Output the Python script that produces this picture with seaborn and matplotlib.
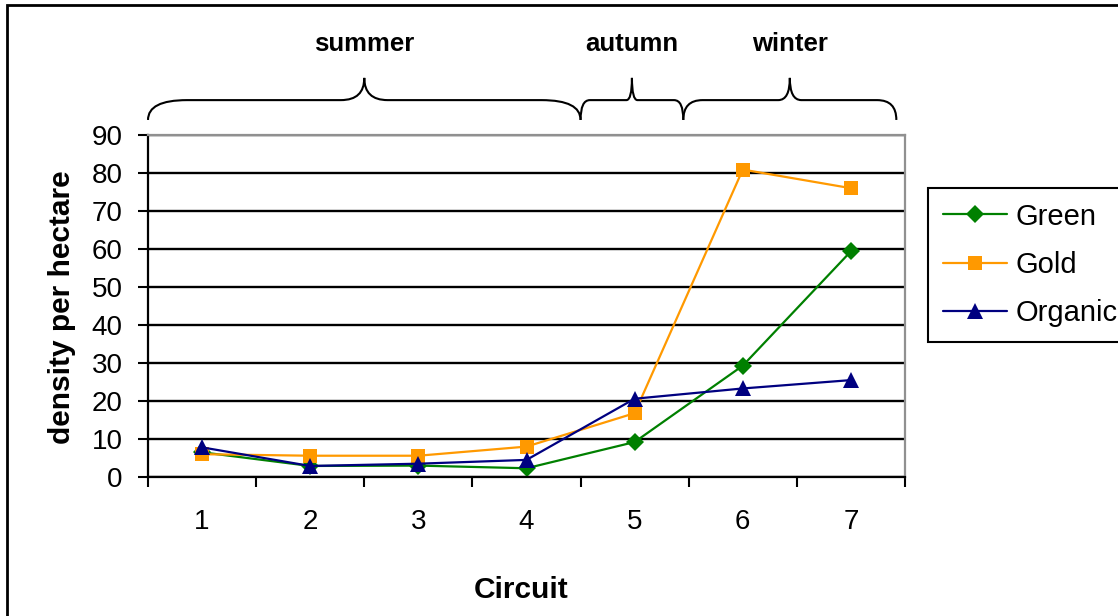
import matplotlib
matplotlib.use("Agg")
import matplotlib.pyplot as plt
from matplotlib.path import Path
from matplotlib.patches import PathPatch, Rectangle
import numpy as np
import pandas as pd
import seaborn as sns

# ---- data -------------------------------------------------------------
circuits = [1, 2, 3, 4, 5, 6, 7]
green = [6.5, 2.9, 3.0, 2.3, 9.2, 29.3, 59.4]
gold = [6.0, 5.6, 5.6, 8.0, 16.8, 80.9, 76.0]
organic = [7.8, 2.9, 3.5, 4.5, 20.6, 23.3, 25.5]
series_names = ["Green", "Gold", "Organic"]
y_ticks = [0, 10, 20, 30, 40, 50, 60, 70, 80, 90]
# seasons: (label, first category edge, last category edge)
seasons = [("summer", 0.5, 4.5), ("autumn", 4.5, 5.45), ("winter", 5.45, 7.42)]

colors = {"Green": "#008000", "Gold": "#FF9900", "Organic": "#000080"}
markers = {"Green": "D", "Gold": "s", "Organic": "^"}
marker_sizes = {"Green": 9.5, "Gold": 10, "Organic": 11.5}

df = pd.DataFrame({
    "Circuit": circuits * 3,
    "density": green + gold + organic,
    "series": [n for n in series_names for _ in circuits],
})

sns.set_style("white")
plt.rcParams["font.family"] = ["Liberation Sans", "DejaVu Sans"]
plt.rcParams["text.color"] = "black"
plt.rcParams["xtick.color"] = "black"
plt.rcParams["ytick.color"] = "black"
plt.rcParams["xtick.labelcolor"] = "black"
plt.rcParams["ytick.labelcolor"] = "black"

W, H = 1118, 616
fig = plt.figure(figsize=(W / 100, H / 100), dpi=100)
ax = fig.add_axes([148 / W, (H - 477) / H, (905 - 148) / W, (477 - 135) / H])

sns.lineplot(data=df, x="Circuit", y="density", hue="series", style="series",
             hue_order=series_names, style_order=series_names,
             palette=colors, markers=markers, dashes=False,
             linewidth=1.6, markeredgewidth=0, legend=False, ax=ax)

for line, name in zip(ax.lines, series_names):
    line.set_markersize(marker_sizes[name])
    line.set_label(name)

# ---- axes ------------------------------------------------------------
ax.set_xlim(0.5, 7.5)
ax.set_ylim(0, 90)
ax.set_xlabel("")
ax.set_ylabel("")

edges = np.arange(0.5, 8.0, 1.0)
ax.set_xticks(edges, labels=[""] * len(edges))
ax.set_xticks(circuits, labels=[str(c) for c in circuits], minor=True)
ax.tick_params(axis="x", which="major", direction="out", length=7.2, width=1.5,
               color="black", bottom=True)
ax.tick_params(axis="x", which="minor", length=0, pad=23, labelsize=20,
               labelcolor="black")

ax.set_yticks(y_ticks, labels=[str(v) for v in y_ticks])
ax.tick_params(axis="y", direction="out", length=7.2, width=1.5, color="black",
               pad=11, labelsize=20, left=True, labelcolor="black")

ax.set_axisbelow(True)
ax.yaxis.grid(True, color="black", linewidth=1.7)
ax.xaxis.grid(False)

for side in ["left", "bottom"]:
    ax.spines[side].set_color("black")
    ax.spines[side].set_linewidth(1.6)
for side in ["top", "right"]:
    ax.spines[side].set_color("#909090")
    ax.spines[side].set_linewidth(1.6)

fig.text(62 / W, 1 - 307 / H, "density per hectare", rotation=90,
         ha="center", va="center", fontsize=21.5, fontweight="bold",
         color="black")
fig.text(521 / W, 1 - 590 / H, "Circuit", ha="center", va="center",
         fontsize=21.5, fontweight="bold", color="black")

# ---- season braces ---------------------------------------------------
tr = ax.get_xaxis_transform()
y_end, y_bar, y_tip, y_text = 1.044, 1.102, 1.167, 1.266


def brace(x0, x1, label):
    xm = (x0 + x1) / 2
    r = 0.09 * (x1 - x0)
    rt = 0.6 * r
    verts = [
        (x0, y_end),
        (x0, y_bar), (x0 + r, y_bar),
        (xm - rt, y_bar),
        (xm, y_bar), (xm, y_tip),
        (xm, y_bar), (xm + rt, y_bar),
        (x1 - r, y_bar),
        (x1, y_bar), (x1, y_end),
    ]
    codes = [Path.MOVETO,
             Path.CURVE3, Path.CURVE3,
             Path.LINETO,
             Path.CURVE3, Path.CURVE3,
             Path.CURVE3, Path.CURVE3,
             Path.LINETO,
             Path.CURVE3, Path.CURVE3]
    ax.add_patch(PathPatch(Path(verts, codes), fill=False, lw=1.5,
                           edgecolor="black", transform=tr, clip_on=False))
    ax.text(xm, y_text, label, transform=tr, ha="center", va="center",
            fontsize=18.5, fontweight="bold", color="black")


for name, a, b in seasons:
    brace(a, b, name)

# ---- legend ------------------------------------------------------------
leg = ax.legend(handles=ax.lines[:3], labels=series_names,
                loc="upper left", bbox_to_anchor=(928 / W, 1 - 188 / H),
                bbox_transform=fig.transFigure, fontsize=21,
                frameon=True, fancybox=False, framealpha=1,
                edgecolor="black", handlelength=2.2, handletextpad=0.3,
                labelspacing=0.7, borderpad=0.5, borderaxespad=0)
leg.get_frame().set_linewidth(1.5)
for t in leg.get_texts():
    t.set_color("black")

# outer chart border
fig.patches.append(Rectangle((7 / W, -0.05), 1.2, (H - 5) / H + 0.05,
                             transform=fig.transFigure, fill=False,
                             edgecolor="black", linewidth=2))

fig.savefig("out.png", dpi=100)
